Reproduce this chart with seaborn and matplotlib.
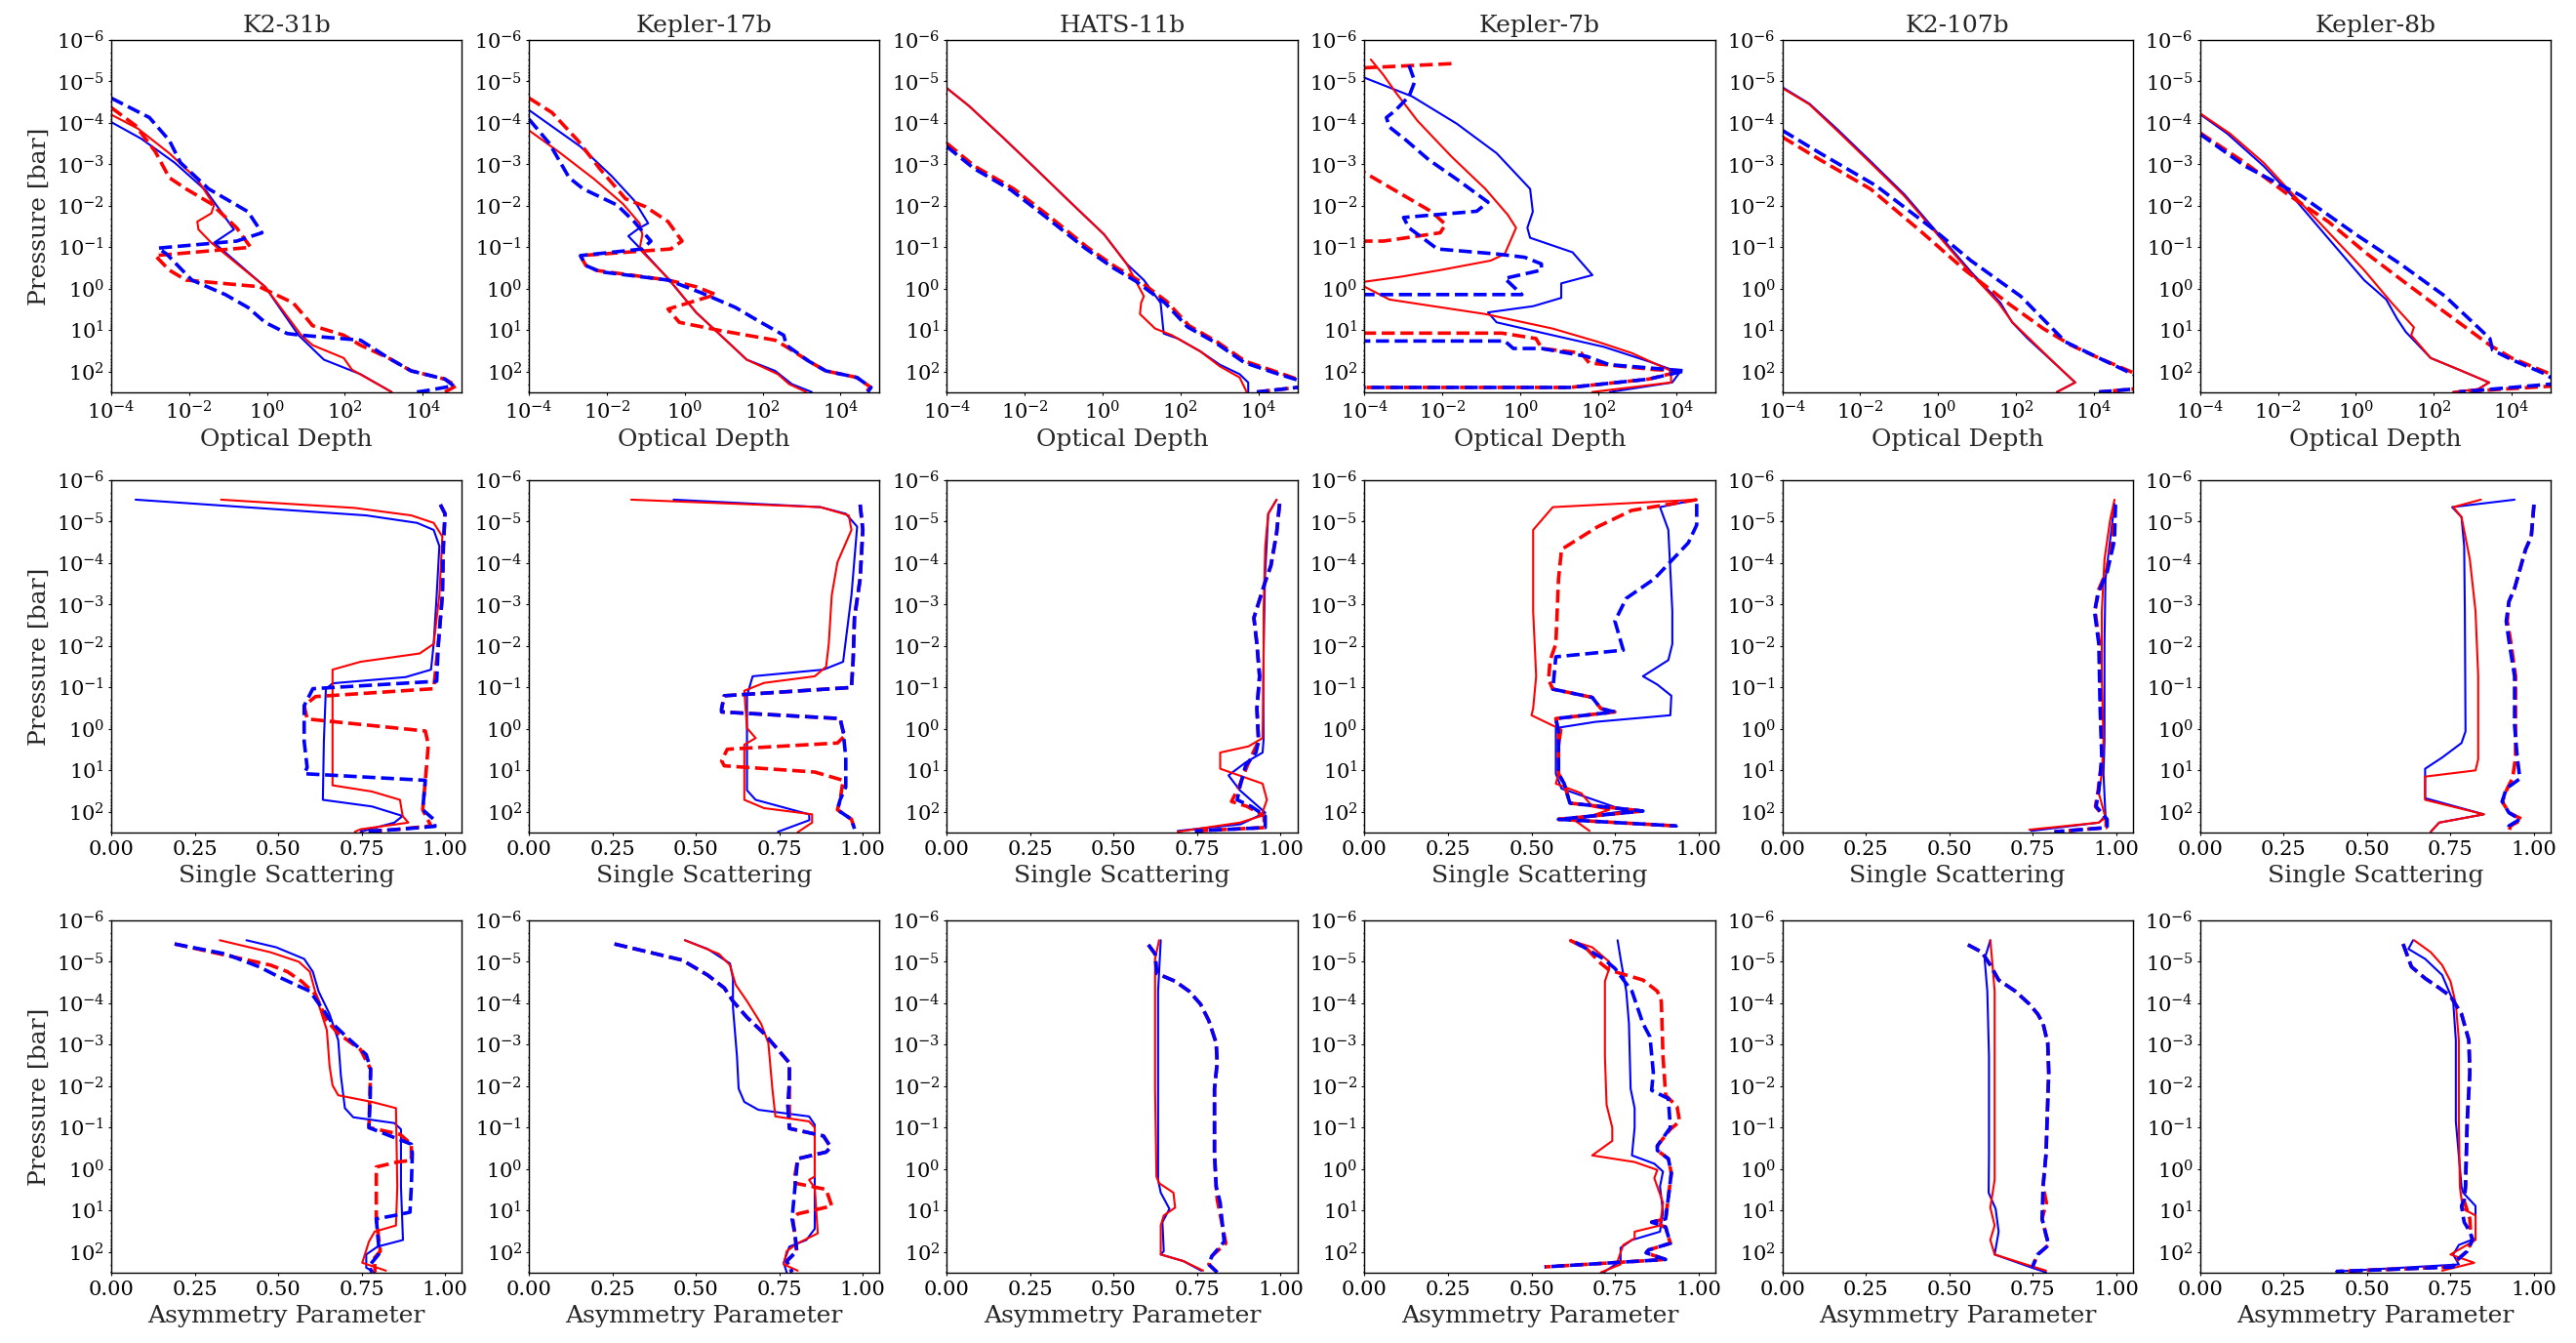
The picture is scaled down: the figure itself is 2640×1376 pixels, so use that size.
import numpy as np
import seaborn as sns
import matplotlib
matplotlib.use("Agg")
import matplotlib.pyplot as plt

planets = ["K2-31b", "Kepler-17b", "HATS-11b", "Kepler-7b", "K2-107b", "Kepler-8b"]
xlabels = ["Optical Depth", "Single Scattering", "Asymmetry Parameter"]

# every curve: (log10 pressure [bar], value); optical depth values are log10(tau)
# rs = red solid, bs = blue solid, rd = red dashed, bd = blue dashed

# ---- optical depth ----
k2_31b_tau_rs = [(-4.2, -4), (-3.86, -3.31), (-3.27, -2.51), (-2.64, -1.79), (-2.02, -1.36), (-1.82, -1.43),
                 (-1.62, -1.79), (-1.43, -1.76), (-1.11, -1.43), (-0.05, -0.05), (1.12, 0.88), (1.36, 1.17),
                 (1.67, 1.97), (1.95, 2.18), (2.49, 3.2)]
k2_31b_tau_bs = [(-4.02, -4), (-3.62, -3.23), (-3.04, -2.37), (-2.37, -1.57), (-1.43, -0.85), (-1.11, -1.36),
                 (-0.05, -0.05), (1.12, 0.81), (1.71, 1.46), (2.06, 2.4), (2.49, 3.2)]
k2_31b_tau_rd = [(-4.37, -4), (-3.94, -3.38), (-3.31, -2.87), (-2.68, -2.51), (-2.41, -2.08), (-2.05, -1.43),
                 (-1.47, -0.78), (-1.0, -0.42), (-0.8, -2.87), (-0.45, -2.51), (-0.21, -2.08), (-0.05, -0.2),
                 (0.34, 0.67), (0.73, 1.03), (0.89, 1.17), (1.12, 1.97), (1.36, 2.4), (1.67, 3.12), (1.98, 3.7),
                 (2.18, 4.57), (2.34, 4.86), (2.49, 4.57)]
k2_31b_tau_bd = [(-4.6, -4), (-4.13, -3.02), (-3.58, -2.51), (-3.04, -2.22), (-2.41, -1.5), (-1.86, -0.49),
                 (-1.35, -0.13), (-1.15, -0.78), (-0.98, -2.8), (-0.84, -2.58), (-0.21, -1.93), (0.14, -1.07),
                 (0.45, -0.49), (0.81, -0.05), (1.08, 0.52), (1.12, 0.88), (1.24, 2.4), (1.67, 3.12), (1.98, 3.7),
                 (2.18, 4.57), (2.34, 4.79), (2.45, 4.14), (2.49, 3.85)]

kep17b_tau_rs = [(-3.82, -4), (-3.27, -3.19), (-2.64, -2.32), (-2.05, -1.59), (-1.58, -1.16), (-1.31, -1.09),
                 (-0.96, -1.16), (-0.25, -0.43), (0.57, 0.29), (1.2, 1.01), (1.71, 1.59), (2.06, 2.39),
                 (2.3, 2.68), (2.49, 3.12)]
kep17b_tau_bs = [(-4.31, -4), (-3.43, -2.68), (-2.72, -1.88), (-2.13, -1.3), (-1.58, -0.94), (-1.47, -1.16),
                 (-1.27, -1.45), (-0.92, -1.09), (-0.25, -0.43), (0.57, 0.29), (1.2, 1.01), (1.71, 1.59),
                 (1.98, 2.32), (2.3, 2.75), (2.49, 3.26)]
kep17b_tau_rd = [(-4.6, -4), (-4.25, -3.41), (-3.58, -2.75), (-2.88, -2.17), (-2.17, -1.52), (-1.98, -1.01),
                 (-1.62, -0.43), (-1.15, -0.07), (-0.96, -0.36), (-0.8, -2.68), (-0.56, -2.54), (-0.44, -2.25),
                 (-0.21, -0.43), (-0.05, 0.29), (0.14, 0.8), (0.49, -0.43), (0.81, -0.14), (1.0, 0.87),
                 (1.24, 2.32), (1.4, 2.61), (1.75, 3.19), (1.98, 3.62), (2.14, 4.42), (2.38, 4.78), (2.49, 4.64)]
kep17b_tau_bd = [(-4.09, -4), (-3.51, -3.48), (-2.68, -2.97), (-2.41, -2.61), (-2.02, -1.74), (-1.62, -1.3),
                 (-1.15, -0.87), (-0.96, -1.09), (-0.8, -2.68), (-0.56, -2.54), (-0.41, -2.17), (-0.21, -0.43),
                 (0.1, 0.43), (0.45, 1.3), (0.77, 1.88), (1.12, 2.54), (1.36, 2.61), (1.75, 3.19), (1.98, 3.62),
                 (2.14, 4.42), (2.38, 4.78), (2.49, 4.7)]

hats11b_tau_rs = [(-4.84, -4), (-4.41, -3.43), (-3.66, -2.57), (-2.88, -1.7), (-2.09, -0.83), (-1.31, 0.04),
                  (-0.6, 0.62), (0.18, 1.06), (0.34, 0.99), (0.61, 0.96), (0.96, 1.35), (1.12, 1.78),
                  (1.51, 2.51), (1.87, 3.01), (2.14, 3.52), (2.49, 3.7)]
hats11b_tau_bs = [(-4.84, -4), (-4.41, -3.43), (-3.66, -2.57), (-2.88, -1.7), (-2.09, -0.83), (-1.31, 0.04),
                  (-0.6, 0.62), (-0.21, 1.06), (0.34, 1.49), (1.08, 1.57), (1.2, 1.93), (1.51, 2.51),
                  (1.83, 3.01), (2.06, 3.52), (2.26, 3.74), (2.49, 3.74)]
hats11b_tau_rd = [(-3.51, -4), (-2.96, -3.29), (-2.41, -2.28), (-1.78, -1.41), (-1.0, -0.39), (-0.53, 0.33),
                  (-0.21, 0.91), (0.3, 1.64), (0.89, 2.22), (1.28, 2.94), (1.75, 3.67), (1.98, 4.39),
                  (2.18, 5.0), (2.3, 5.4), (2.38, 5.0), (2.49, 3.96)]
hats11b_tau_bd = [(-3.43, -4), (-2.9, -3.3), (-2.38, -2.35), (-1.75, -1.48), (-0.98, -0.45), (-0.5, 0.28),
                  (-0.18, 0.86), (0.34, 1.6), (0.92, 2.18), (1.3, 2.9), (1.78, 3.64), (2.02, 4.39),
                  (2.2, 5.0), (2.3, 5.4), (2.38, 5.0), (2.49, 3.96)]

kep7b_tau_rs = [(-5.53, -3.84), (-5.15, -3.51), (-4.76, -3.22), (-4.05, -2.64), (-3.19, -1.77), (-2.41, -0.9),
                (-1.78, -0.32), (-1.47, -0.11), (-0.84, -0.4), (-0.68, -0.76), (-0.45, -2.06), (-0.29, -3.07),
                (-0.17, -4.0), (-0.1, -4.3), (-0.05, -4.0), (0.26, -3.36), (0.61, -0.9), (0.96, 0.83),
                (1.28, 1.99), (1.55, 2.86), (1.98, 3.87), (2.26, 3.87), (2.49, 1.85)]
kep7b_tau_bs = [(-5.09, -4), (-4.64, -2.78), (-3.98, -1.63), (-3.27, -0.61), (-2.41, 0.25), (-1.86, 0.32),
                (-1.47, 0.18), (-1.23, 0.25), (-0.88, 1.34), (-0.33, 1.85), (-0.13, 1.05), (0.22, 1.05),
                (0.42, 0.33), (0.57, -0.83), (0.81, -0.61), (1.12, 0.83), (1.4, 2.14), (1.75, 3.29),
                (2.02, 4.09), (2.26, 3.9), (2.49, 2.3)]
kep7b_tau_rd = [(-5.43, -1.77), (-5.33, -4.0), (-4.0, -5.0), (-2.8, -4.0), (-1.86, -2.28), (-1.55, -1.92),
                (-1.35, -2.06), (-1.15, -3.51), (-1.15, -4.0), (0.5, -5.0), (1.07, -4.0), (1.07, -0.47),
                (1.2, 0.4), (1.44, 0.55), (1.55, 1.56), (1.79, 1.77), (1.95, 3.44), (1.98, 4.16), (2.18, 3.29),
                (2.38, 1.27), (2.38, -4.0)]
kep7b_tau_bd = [(-5.39, -2.86), (-5.0, -2.71), (-4.64, -2.86), (-4.29, -3.22), (-4.13, -3.44), (-3.9, -3.36),
                (-3.58, -2.93), (-3.11, -2.35), (-2.64, -1.63), (-2.09, -0.83), (-1.87, -1.12), (-1.72, -3.0),
                (-1.47, -2.86), (-0.96, -2.13), (-0.84, -0.61), (-0.76, 0.11), (-0.6, 0.54), (-0.45, 0.54),
                (-0.25, -0.4), (0.14, 0.04), (0.14, -4.0), (0.7, -5.0), (1.26, -4.0), (1.26, -0.4),
                (1.44, -0.18), (1.44, 0.54), (1.63, 1.7), (1.83, 2.28), (1.98, 4.23), (2.18, 3.29),
                (2.38, 1.27), (2.38, -4.0)]

k2_107b_tau_rs = [(-4.84, -4), (-4.45, -3.31), (-3.82, -2.6), (-3.04, -1.74), (-2.25, -0.88), (-1.31, -0.02),
                  (-0.37, 0.84), (0.34, 1.55), (0.81, 1.91), (1.2, 2.34), (1.91, 3.12), (2.26, 3.52), (2.49, 3.05)]
k2_107b_tau_bs = [(-4.86, -4), (-4.46, -3.3), (-3.84, -2.58), (-3.06, -1.72), (-2.27, -0.86), (-1.33, 0.0),
                  (-0.39, 0.86), (0.34, 1.6), (0.81, 1.9), (1.2, 2.3), (1.91, 3.12), (2.26, 3.52), (2.49, 3.05)]
k2_107b_tau_rd = [(-3.66, -4), (-3.11, -3.03), (-2.41, -1.74), (-1.39, -0.45), (-0.45, 0.69), (0.38, 1.84),
                  (0.96, 2.7), (1.36, 3.41), (1.67, 4.13), (2.02, 5.0), (2.2, 5.4), (2.42, 5.0), (2.49, 4.13)]
k2_107b_tau_bd = [(-3.82, -4), (-3.27, -3.03), (-2.49, -1.6), (-1.47, -0.17), (-0.68, 0.84), (0.18, 2.12),
                  (1.28, 3.27), (1.67, 4.13), (2.06, 5.0), (2.2, 5.4), (2.42, 5.0), (2.49, 4.13)]

kep8b_tau_rs = [(-4.23, -4), (-3.74, -3.23), (-3.04, -2.37), (-2.17, -1.51), (-1.31, -0.65), (-0.45, 0.21),
                (0.34, 0.92), (0.93, 1.49), (1.12, 1.42), (1.67, 1.92), (1.95, 2.64), (2.26, 3.42),
                (2.42, 3.14), (2.49, 2.5)]
kep8b_tau_bs = [(-4.21, -4), (-3.74, -3.3), (-2.96, -2.37), (-2.25, -1.65), (-1.15, -0.65), (-0.21, 0.21),
                (0.26, 0.78), (0.73, 1.06), (1.04, 1.28), (1.67, 1.92), (1.95, 2.64), (2.26, 3.42),
                (2.42, 3.14), (2.49, 2.5)]
kep8b_tau_rd = [(-3.76, -4), (-3.04, -2.85), (-2.25, -1.71), (-1.62, -0.71), (-0.84, 0.29), (-0.13, 1.29),
                (0.57, 2.29), (1.36, 3.44), (1.67, 4.0), (2.06, 5.0), (2.3, 5.3), (2.35, 5.0), (2.49, 2.6)]
kep8b_tau_bd = [(-3.73, -4), (-2.96, -2.85), (-2.25, -1.42), (-1.31, 0.0), (-0.6, 1.14), (0.18, 2.29),
                (1.2, 3.44), (1.48, 3.51), (1.71, 4.0), (2.06, 4.87), (2.14, 5.0), (2.25, 5.3), (2.3, 5.0),
                (2.49, 2.64)]

# ---- single scattering albedo ----
k2_31b_ssa_rs = [(-5.53, 0.329), (-5.33, 0.73), (-5.15, 0.899), (-4.97, 0.966), (-4.64, 0.992), (-3.23, 0.983),
                 (-2.05, 0.966), (-1.82, 0.924), (-1.62, 0.747), (-1.43, 0.663), (0.3, 0.663), (1.36, 0.663),
                 (1.51, 0.781), (1.71, 0.865), (2.1, 0.873), (2.26, 0.89), (2.42, 0.747), (2.48, 0.73)]
k2_31b_ssa_bs = [(-5.53, 0.073), (-5.15, 0.764), (-4.97, 0.916), (-4.8, 0.966), (-4.41, 0.983), (-3.23, 0.975),
                 (-2.05, 0.966), (-1.43, 0.958), (-1.25, 0.882), (-1.1, 0.663), (-0.96, 0.643), (0.3, 0.637),
                 (1.71, 0.634), (1.87, 0.781), (2.1, 0.873), (2.26, 0.848), (2.48, 0.747)]
k2_31b_ssa_rd = [(-5.41, 0.986), (-5.19, 1.0), (-4.41, 0.995), (-3.23, 0.992), (-2.05, 0.98), (-0.97, 0.966),
                 (-0.78, 0.612), (-0.56, 0.578), (-0.24, 0.587), (0.05, 0.941), (0.38, 0.95), (1.24, 0.941),
                 (1.95, 0.933), (2.34, 0.958), (2.43, 0.848), (2.48, 0.747)]
k2_31b_ssa_bd = [(-5.41, 0.986), (-5.19, 1.0), (-4.41, 0.995), (-3.23, 0.992), (-2.05, 0.98), (-1.15, 0.975),
                 (-0.97, 0.604), (-0.56, 0.578), (0.3, 0.578), (0.93, 0.587), (1.08, 0.578), (1.24, 0.941),
                 (1.95, 0.933), (2.18, 0.966), (2.35, 0.97), (2.43, 0.848), (2.48, 0.747)]

kep17b_ssa_rs = [(-5.53, 0.306), (-5.35, 0.873), (-5.15, 0.958), (-4.8, 0.966), (-4.02, 0.924), (-3.23, 0.907),
                 (-2.05, 0.898), (-1.5, 0.89), (-1.27, 0.856), (-1.11, 0.704), (-0.92, 0.645), (-0.02, 0.653),
                 (0.22, 0.679), (0.38, 0.645), (1.71, 0.645), (1.91, 0.704), (2.06, 0.848), (2.26, 0.848),
                 (2.49, 0.805)]
kep17b_ssa_bs = [(-5.53, 0.433), (-5.35, 0.873), (-5.19, 0.949), (-4.88, 0.983), (-3.23, 0.966), (-1.62, 0.941),
                 (-1.43, 0.882), (-1.27, 0.67), (-0.8, 0.653), (0.3, 0.653), (1.48, 0.653), (1.71, 0.679),
                 (2.06, 0.839), (2.2, 0.84), (2.48, 0.746)]
kep17b_ssa_rd = [(-5.41, 0.992), (-4.8, 1.0), (-3.62, 0.992), (-2.68, 0.975), (-1.66, 0.971), (-1.0, 0.966),
                 (-0.8, 0.585), (-0.49, 0.577), (-0.41, 0.577), (-0.25, 0.932), (0.06, 0.941), (0.14, 0.949),
                 (0.34, 0.924), (0.49, 0.594), (0.77, 0.577), (0.89, 0.585), (1.04, 0.856), (1.24, 0.941),
                 (1.71, 0.932), (1.95, 0.924), (2.18, 0.966), (2.41, 0.975)]
kep17b_ssa_bd = [(-5.41, 0.992), (-4.8, 1.0), (-3.62, 0.992), (-2.68, 0.975), (-1.66, 0.971), (-1.0, 0.966),
                 (-0.8, 0.585), (-0.49, 0.577), (-0.41, 0.577), (-0.25, 0.932), (0.06, 0.941), (0.69, 0.949),
                 (1.4, 0.949), (1.71, 0.932), (1.95, 0.924), (2.18, 0.966), (2.41, 0.975)]

hats11b_ssa_rs = [(-5.53, 0.988), (-5.19, 0.963), (-4.41, 0.954), (-2.84, 0.949), (-1.27, 0.949), (0.22, 0.946),
                  (0.42, 0.904), (0.57, 0.819), (0.96, 0.819), (1.32, 0.946), (1.71, 0.959), (2.1, 0.942),
                  (2.26, 0.878), (2.48, 0.692)]
hats11b_ssa_bs = [(-5.53, 0.988), (-5.19, 0.963), (-3.62, 0.953), (-1.27, 0.948), (0.26, 0.949), (0.57, 0.946),
                  (0.81, 0.895), (1.12, 0.844), (1.48, 0.878), (2.02, 0.954), (2.3, 0.88), (2.46, 0.692)]
hats11b_ssa_rd = [(-5.43, 0.997), (-4.72, 0.988), (-3.94, 0.971), (-3.55, 0.954), (-2.68, 0.92), (-2.05, 0.929),
                  (-1.27, 0.937), (-0.49, 0.929), (0.3, 0.934), (0.53, 0.92), (0.89, 0.9), (1.4, 0.875),
                  (1.75, 0.853), (1.87, 0.9), (2.1, 0.95), (2.38, 0.952), (2.46, 0.743)]
hats11b_ssa_bd = [(-5.43, 0.997), (-4.72, 0.988), (-3.94, 0.971), (-3.55, 0.954), (-2.68, 0.92), (-2.05, 0.929),
                  (-1.27, 0.937), (-0.49, 0.929), (0.3, 0.934), (0.57, 0.926), (0.89, 0.895), (1.4, 0.878),
                  (1.71, 0.87), (1.87, 0.912), (2.1, 0.954), (2.38, 0.954), (2.46, 0.743)]

kep7b_ssa_rs = [(-5.53, 0.995), (-5.35, 0.564), (-4.8, 0.505), (-2.84, 0.505), (-1.27, 0.514), (-0.49, 0.505),
                (-0.33, 0.5), (0.02, 0.59), (0.53, 0.581), (1.08, 0.581), (1.32, 0.573), (1.55, 0.649),
                (1.87, 0.682), (1.95, 0.733), (2.22, 0.632), (2.46, 0.674)]
kep7b_ssa_bs = [(-5.53, 0.995), (-5.35, 0.885), (-4.8, 0.91), (-2.84, 0.922), (-2.05, 0.922), (-1.66, 0.91),
                (-1.27, 0.834), (-1.07, 0.877), (-0.8, 0.919), (-0.33, 0.916), (-0.17, 0.691), (-0.02, 0.573),
                (1.08, 0.573), (1.44, 0.59), (1.79, 0.716), (1.98, 0.784), (2.18, 0.59), (2.35, 0.936)]
kep7b_ssa_rd = [(-5.53, 0.995), (-5.27, 0.8), (-4.88, 0.699), (-4.33, 0.59), (-3.62, 0.581), (-2.05, 0.573),
                (-1.66, 0.556), (-1.19, 0.551), (-0.96, 0.564), (-0.76, 0.682), (-0.49, 0.708), (-0.41, 0.75),
                (-0.25, 0.573), (0.06, 0.581), (1.08, 0.581), (1.32, 0.598), (1.79, 0.615), (1.98, 0.834),
                (2.18, 0.581), (2.34, 0.936)]
kep7b_ssa_bd = [(-5.43, 0.995), (-4.92, 0.995), (-4.49, 0.97), (-3.62, 0.868), (-3.15, 0.784), (-2.6, 0.75),
                (-1.9, 0.775), (-1.74, 0.573), (-0.96, 0.564), (-0.76, 0.682), (-0.49, 0.708), (-0.41, 0.75),
                (-0.25, 0.573), (0.06, 0.581), (1.08, 0.581), (1.32, 0.598), (1.79, 0.615), (1.98, 0.834),
                (2.18, 0.581), (2.34, 0.936)]

k2_107b_ssa_rs = [(-5.53, 0.995), (-5.04, 0.982), (-4.09, 0.965), (-2.84, 0.957), (-1.27, 0.957), (0.3, 0.962),
                  (1.08, 0.957), (1.55, 0.948), (2.14, 0.968), (2.26, 0.948), (2.43, 0.74)]
k2_107b_ssa_bs = [(-5.43, 0.995), (-3.62, 0.968), (-2.05, 0.965), (0.3, 0.965), (1.08, 0.962), (2.1, 0.968),
                  (2.26, 0.948), (2.46, 0.745)]
k2_107b_ssa_rd = [(-5.41, 0.995), (-4.56, 0.99), (-3.78, 0.97), (-3.31, 0.945), (-2.84, 0.937), (-2.05, 0.95),
                  (-0.49, 0.954), (0.69, 0.958), (1.48, 0.946), (1.87, 0.938), (2.18, 0.97), (2.38, 0.97),
                  (2.48, 0.815)]
k2_107b_ssa_bd = [(-5.41, 0.998), (-4.56, 0.995), (-3.78, 0.973), (-3.31, 0.948), (-2.84, 0.935), (-2.05, 0.948),
                  (-0.49, 0.952), (0.69, 0.957), (1.48, 0.948), (1.87, 0.94), (2.18, 0.973), (2.38, 0.973),
                  (2.48, 0.815)]

kep8b_ssa_rs = [(-5.53, 0.841), (-5.35, 0.758), (-5.11, 0.783), (-4.09, 0.808), (-2.84, 0.825), (-1.27, 0.833),
                (0.73, 0.833), (1.0, 0.825), (1.15, 0.674), (1.71, 0.674), (2.06, 0.85), (2.26, 0.716),
                (2.48, 0.691)]
kep8b_ssa_bs = [(-5.53, 0.942), (-5.35, 0.755), (-5.11, 0.783), (-4.41, 0.791), (-2.84, 0.793), (0.06, 0.795),
                (0.34, 0.783), (0.69, 0.725), (0.96, 0.674), (1.67, 0.674), (2.06, 0.85), (2.26, 0.716),
                (2.48, 0.691)]
kep8b_ssa_rd = [(-5.41, 1.0), (-4.64, 0.992), (-4.33, 0.975), (-3.39, 0.942), (-3.07, 0.925), (-2.6, 0.92),
                (-2.13, 0.93), (-1.27, 0.945), (-0.09, 0.945), (0.69, 0.945), (1.08, 0.938), (1.2, 0.935),
                (1.44, 0.92), (1.75, 0.905), (2.02, 0.925), (2.18, 0.965), (2.34, 0.93), (2.48, 0.925)]
kep8b_ssa_bd = [(-5.41, 1.0), (-4.64, 0.992), (-4.33, 0.975), (-3.39, 0.942), (-3.07, 0.925), (-2.6, 0.917),
                (-2.13, 0.925), (-1.27, 0.942), (-0.09, 0.942), (0.69, 0.95), (1.2, 0.958), (1.44, 0.917),
                (1.75, 0.905), (2.02, 0.925), (2.18, 0.958), (2.34, 0.925), (2.48, 0.925)]

# ---- asymmetry parameter ----
k2_31b_g_rs = [(-5.52, 0.325), (-5.23, 0.477), (-5.0, 0.562), (-4.76, 0.595), (-3.98, 0.621), (-3.35, 0.646),
               (-2.49, 0.654), (-2.02, 0.663), (-1.78, 0.68), (-1.62, 0.781), (-1.47, 0.853), (0.42, 0.857),
               (1.36, 0.853), (1.51, 0.789), (1.75, 0.772), (2.26, 0.752), (2.45, 0.823)]
k2_31b_g_bs = [(-5.52, 0.405), (-5.35, 0.494), (-5.07, 0.578), (-4.76, 0.604), (-4.29, 0.621), (-3.74, 0.654),
               (-3.11, 0.68), (-2.25, 0.688), (-1.47, 0.7), (-1.25, 0.725), (-1.11, 0.848), (-0.96, 0.868),
               (0.42, 0.868), (1.71, 0.874), (1.87, 0.798), (2.06, 0.764), (2.38, 0.764), (2.49, 0.789)]
k2_31b_g_rd = [(-5.43, 0.19), (-5.07, 0.393), (-4.92, 0.477), (-4.76, 0.528), (-4.53, 0.57), (-4.21, 0.612),
               (-3.58, 0.646), (-3.27, 0.68), (-2.88, 0.747), (-2.41, 0.777), (-1.0, 0.772), (-0.84, 0.865),
               (-0.6, 0.899), (-0.21, 0.899), (-0.17, 0.857), (-0.05, 0.794), (1.2, 0.794), (1.98, 0.806),
               (2.14, 0.789), (2.49, 0.79)]
k2_31b_g_bd = [(-5.43, 0.19), (-5.19, 0.342), (-4.88, 0.443), (-4.6, 0.511), (-4.29, 0.595), (-3.82, 0.637),
               (-3.51, 0.663), (-3.19, 0.705), (-2.76, 0.764), (-2.41, 0.777), (-1.78, 0.776), (-1.0, 0.772),
               (-0.6, 0.899), (-0.37, 0.902), (0.42, 0.899), (1.04, 0.895), (1.12, 0.848), (1.2, 0.794),
               (1.83, 0.801), (2.06, 0.801), (2.34, 0.772), (2.49, 0.781)]

kep17b_g_rs = [(-5.52, 0.467), (-5.19, 0.569), (-4.92, 0.602), (-4.45, 0.619), (-4.05, 0.653), (-3.51, 0.695),
               (-3.04, 0.717), (-1.94, 0.729), (-1.27, 0.738), (-1.15, 0.839), (-1.0, 0.856), (0.18, 0.856),
               (0.26, 0.839), (0.45, 0.856), (1.55, 0.865), (1.79, 0.805), (1.98, 0.772), (2.3, 0.763),
               (2.45, 0.805)]
kep17b_g_bs = [(-5.52, 0.467), (-5.31, 0.535), (-4.96, 0.602), (-4.6, 0.611), (-3.9, 0.611), (-2.72, 0.623),
               (-1.94, 0.628), (-1.62, 0.645), (-1.43, 0.687), (-1.27, 0.839), (-1.07, 0.856), (0.42, 0.856),
               (1.44, 0.856), (1.71, 0.831), (1.87, 0.78), (2.26, 0.763), (2.49, 0.772)]
kep17b_g_rd = [(-5.43, 0.256), (-5.04, 0.459), (-4.68, 0.535), (-4.37, 0.585), (-4.05, 0.611), (-3.66, 0.653),
               (-3.27, 0.704), (-2.88, 0.746), (-2.56, 0.78), (-2.09, 0.78), (-0.98, 0.78), (-0.8, 0.882),
               (-0.53, 0.904), (-0.41, 0.89), (-0.25, 0.805), (0.14, 0.797), (0.34, 0.797), (0.49, 0.89),
               (0.89, 0.907), (1.08, 0.805), (1.2, 0.79), (1.59, 0.797), (1.98, 0.802), (2.22, 0.772),
               (2.49, 0.788)]
kep17b_g_bd = [(-5.43, 0.256), (-5.04, 0.459), (-4.68, 0.535), (-4.37, 0.585), (-4.05, 0.611), (-3.66, 0.653),
               (-3.27, 0.704), (-2.88, 0.746), (-2.56, 0.78), (-2.09, 0.78), (-1.55, 0.775), (-0.98, 0.78),
               (-0.8, 0.882), (-0.53, 0.904), (-0.41, 0.89), (-0.25, 0.805), (0.42, 0.797), (1.2, 0.788),
               (1.59, 0.797), (1.98, 0.802), (2.22, 0.772), (2.49, 0.788)]

hats11b_g_rs = [(-5.52, 0.636), (-5.07, 0.624), (-3.51, 0.624), (-1.94, 0.624), (0.18, 0.628), (0.34, 0.636),
                (0.57, 0.679), (0.93, 0.684), (1.12, 0.65), (1.36, 0.641), (2.06, 0.641), (2.22, 0.709),
                (2.45, 0.768)]
hats11b_g_bs = [(-5.52, 0.641), (-4.29, 0.633), (-1.94, 0.633), (0.26, 0.633), (0.57, 0.641), (0.96, 0.667),
                (1.28, 0.646), (1.98, 0.65), (2.06, 0.641), (2.22, 0.709), (2.45, 0.762)]
hats11b_g_rd = [(-5.41, 0.604), (-5.19, 0.624), (-4.72, 0.629), (-4.53, 0.684), (-4.29, 0.726), (-3.98, 0.76),
                (-3.58, 0.785), (-3.04, 0.807), (-2.56, 0.81), (-1.94, 0.802), (-0.37, 0.802), (0.42, 0.807),
                (0.73, 0.81), (1.79, 0.836), (2.1, 0.794), (2.3, 0.785), (2.49, 0.81)]
hats11b_g_bd = [(-5.41, 0.604), (-5.19, 0.624), (-4.72, 0.629), (-4.53, 0.684), (-4.29, 0.726), (-3.98, 0.76),
                (-3.58, 0.785), (-3.04, 0.807), (-2.56, 0.81), (-1.94, 0.802), (-0.37, 0.802), (0.42, 0.807),
                (0.81, 0.819), (1.75, 0.831), (2.1, 0.794), (2.3, 0.785), (2.49, 0.81)]

kep7b_g_rs = [(-5.52, 0.615), (-5.35, 0.682), (-5.0, 0.733), (-4.84, 0.733), (-4.53, 0.72), (-2.72, 0.72),
              (-1.55, 0.725), (-1.0, 0.742), (-0.68, 0.742), (-0.33, 0.682), (-0.17, 0.809), (0.02, 0.877),
              (0.22, 0.868), (0.81, 0.894), (1.36, 0.885), (1.51, 0.809), (1.67, 0.809), (1.83, 0.775),
              (2.22, 0.758), (2.3, 0.767), (2.49, 0.708)]
kep7b_g_bs = [(-5.52, 0.758), (-5.07, 0.767), (-4.29, 0.784), (-3.51, 0.792), (-1.94, 0.797), (-1.47, 0.809),
              (-1.0, 0.809), (-0.33, 0.801), (-0.13, 0.868), (0.06, 0.894), (0.42, 0.885), (1.04, 0.894),
              (1.51, 0.885), (1.71, 0.801), (1.9, 0.767), (2.22, 0.767), (2.49, 0.716)]
kep7b_g_rd = [(-5.52, 0.615), (-5.31, 0.666), (-4.96, 0.708), (-4.8, 0.733), (-4.56, 0.834), (-4.29, 0.877),
              (-4.05, 0.889), (-2.72, 0.894), (-1.78, 0.902), (-1.51, 0.936), (-1.15, 0.944), (-0.96, 0.916),
              (-0.56, 0.877), (-0.45, 0.877), (-0.25, 0.91), (0.1, 0.919), (1.2, 0.902), (1.28, 0.86),
              (1.4, 0.902), (1.79, 0.916), (1.95, 0.851), (2.02, 0.843), (2.18, 0.902), (2.36, 0.539)]
kep7b_g_bd = [(-5.47, 0.632), (-5.07, 0.716), (-4.84, 0.75), (-4.29, 0.801), (-3.51, 0.834), (-3.19, 0.855),
              (-2.33, 0.865), (-1.9, 0.86), (-1.7, 0.91), (-1.0, 0.916), (-0.56, 0.877), (-0.45, 0.877),
              (-0.25, 0.91), (0.1, 0.919), (1.2, 0.902), (1.28, 0.86), (1.4, 0.902), (1.79, 0.916),
              (1.95, 0.851), (2.02, 0.843), (2.18, 0.902), (2.36, 0.539)]

k2_107b_g_rs = [(-5.52, 0.623), (-5.07, 0.628), (-4.29, 0.636), (-2.72, 0.636), (0.26, 0.636), (0.93, 0.623),
                (1.36, 0.636), (1.71, 0.623), (2.06, 0.636), (2.3, 0.73), (2.45, 0.79)]
k2_107b_g_bs = [(-5.52, 0.623), (-5.07, 0.606), (-4.29, 0.614), (-2.72, 0.619), (-0.37, 0.619), (0.57, 0.618),
                (0.96, 0.639), (1.51, 0.648), (2.06, 0.636), (2.38, 0.748), (2.49, 0.79)]
k2_107b_g_rd = [(-5.41, 0.556), (-5.23, 0.598), (-4.92, 0.623), (-4.56, 0.648), (-4.29, 0.698), (-3.98, 0.74),
                (-3.74, 0.765), (-3.51, 0.781), (-3.04, 0.795), (-2.33, 0.798), (-1.15, 0.793), (-0.37, 0.79),
                (0.42, 0.781), (0.81, 0.791), (1.2, 0.778), (1.59, 0.79), (1.83, 0.798), (2.06, 0.765),
                (2.38, 0.748)]
k2_107b_g_bd = [(-5.41, 0.556), (-5.23, 0.598), (-4.92, 0.623), (-4.56, 0.648), (-4.29, 0.698), (-3.98, 0.74),
                (-3.74, 0.765), (-3.51, 0.781), (-3.04, 0.795), (-2.33, 0.798), (-1.15, 0.793), (-0.37, 0.79),
                (0.42, 0.781), (1.2, 0.778), (1.59, 0.79), (1.83, 0.798), (2.06, 0.765), (2.38, 0.748)]

kep8b_g_rs = [(-5.52, 0.641), (-5.23, 0.691), (-4.92, 0.725), (-4.53, 0.75), (-3.98, 0.766), (-3.11, 0.775),
              (-1.15, 0.775), (0.42, 0.778), (0.73, 0.783), (0.96, 0.788), (1.12, 0.825), (1.71, 0.825),
              (2.06, 0.75), (2.26, 0.821), (2.45, 0.725)]
kep8b_g_bs = [(-5.52, 0.638), (-5.31, 0.624), (-5.07, 0.674), (-4.68, 0.725), (-4.05, 0.758), (-3.11, 0.766),
              (-1.15, 0.766), (0.42, 0.783), (0.57, 0.788), (0.89, 0.825), (1.67, 0.825), (1.83, 0.775),
              (2.06, 0.758), (2.3, 0.775), (2.47, 0.407)]
kep8b_g_rd = [(-5.43, 0.608), (-4.88, 0.633), (-4.6, 0.674), (-4.37, 0.716), (-4.17, 0.75), (-3.74, 0.783),
              (-3.11, 0.805), (-2.33, 0.808), (-1.15, 0.8), (0.42, 0.795), (0.77, 0.791), (1.2, 0.808),
              (1.51, 0.81), (1.71, 0.816), (1.98, 0.8), (2.22, 0.766), (2.36, 0.758), (2.47, 0.407)]
kep8b_g_bd = [(-5.43, 0.608), (-4.88, 0.633), (-4.6, 0.674), (-4.37, 0.716), (-4.17, 0.75), (-3.74, 0.783),
              (-3.11, 0.805), (-2.33, 0.808), (-1.15, 0.8), (0.42, 0.795), (0.73, 0.791), (0.89, 0.783),
              (1.28, 0.791), (1.51, 0.808), (1.71, 0.816), (1.98, 0.8), (2.22, 0.766), (2.36, 0.758),
              (2.47, 0.407)]

# per panel, in drawing order: blue solid, red solid, red dashed, blue dashed
rows = [
    [(k2_31b_tau_bs, k2_31b_tau_rs, k2_31b_tau_rd, k2_31b_tau_bd),
     (kep17b_tau_bs, kep17b_tau_rs, kep17b_tau_rd, kep17b_tau_bd),
     (hats11b_tau_bs, hats11b_tau_rs, hats11b_tau_rd, hats11b_tau_bd),
     (kep7b_tau_bs, kep7b_tau_rs, kep7b_tau_rd, kep7b_tau_bd),
     (k2_107b_tau_bs, k2_107b_tau_rs, k2_107b_tau_rd, k2_107b_tau_bd),
     (kep8b_tau_bs, kep8b_tau_rs, kep8b_tau_rd, kep8b_tau_bd)],
    [(k2_31b_ssa_bs, k2_31b_ssa_rs, k2_31b_ssa_rd, k2_31b_ssa_bd),
     (kep17b_ssa_bs, kep17b_ssa_rs, kep17b_ssa_rd, kep17b_ssa_bd),
     (hats11b_ssa_bs, hats11b_ssa_rs, hats11b_ssa_rd, hats11b_ssa_bd),
     (kep7b_ssa_bs, kep7b_ssa_rs, kep7b_ssa_rd, kep7b_ssa_bd),
     (k2_107b_ssa_bs, k2_107b_ssa_rs, k2_107b_ssa_rd, k2_107b_ssa_bd),
     (kep8b_ssa_bs, kep8b_ssa_rs, kep8b_ssa_rd, kep8b_ssa_bd)],
    [(k2_31b_g_bs, k2_31b_g_rs, k2_31b_g_rd, k2_31b_g_bd),
     (kep17b_g_bs, kep17b_g_rs, kep17b_g_rd, kep17b_g_bd),
     (hats11b_g_bs, hats11b_g_rs, hats11b_g_rd, hats11b_g_bd),
     (kep7b_g_bs, kep7b_g_rs, kep7b_g_rd, kep7b_g_bd),
     (k2_107b_g_bs, k2_107b_g_rs, k2_107b_g_rd, k2_107b_g_bd),
     (kep8b_g_bs, kep8b_g_rs, kep8b_g_rd, kep8b_g_bd)],
]

line_styles = [("blue", "-", 1.5), ("red", "-", 1.5), ("red", "--", 2.6), ("blue", "--", 2.6)]

sns.set_theme(style="ticks")
plt.rcParams.update({
    "font.family": "serif",
    "font.serif": ["DejaVu Serif"],
    "mathtext.fontset": "dejavuserif",
    "axes.edgecolor": "black",
    "axes.linewidth": 1.0,
    "xtick.color": "black",
    "ytick.color": "black",
    "xtick.major.size": 2.0,
    "ytick.major.size": 2.0,
    "xtick.minor.size": 1.0,
    "ytick.minor.size": 1.0,
    "xtick.major.width": 0.8,
    "ytick.major.width": 0.8,
    "xtick.major.pad": 4,
    "ytick.major.pad": 3,
    "xtick.labelsize": 15,
    "ytick.labelsize": 15,
})

fig, axes = plt.subplots(3, 6, figsize=(26.4, 13.76), dpi=100)
fig.subplots_adjust(left=114 / 2640, right=2614 / 2640, top=1 - 41 / 1376, bottom=1 - 1304 / 1376,
                    wspace=0.192, hspace=0.249)

for r in range(3):
    for c in range(6):
        ax = axes[r, c]
        ax.set_yscale("log")
        if r == 0:
            ax.set_xscale("log")
        for curve, (color, ls, lw) in zip(rows[r][c], line_styles):
            arr = np.array(curve, dtype=float)
            p = 10.0 ** arr[:, 0]
            v = 10.0 ** arr[:, 1] if r == 0 else arr[:, 1]
            sns.lineplot(x=v, y=p, ax=ax, sort=False, estimator=None, color=color,
                         linestyle=ls, linewidth=lw)
        ax.set_ylim(10 ** 2.5, 1e-6)
        ax.set_yticks(10.0 ** np.arange(-6, 3))
        if r == 0:
            ax.set_xlim(1e-4, 1e5)
            ax.set_xticks([1e-4, 1e-2, 1e0, 1e2, 1e4])
            ax.set_title(planets[c], fontsize=18)
        else:
            ax.set_xlim(0, 1.05)
            ax.set_xticks([0, 0.25, 0.5, 0.75, 1.0])
        ax.set_xlabel(xlabels[r], fontsize=18)
        if c == 0:
            ax.set_ylabel("Pressure [bar]", fontsize=18)
        else:
            ax.set_ylabel("")

fig.savefig("out.png", dpi=100)
